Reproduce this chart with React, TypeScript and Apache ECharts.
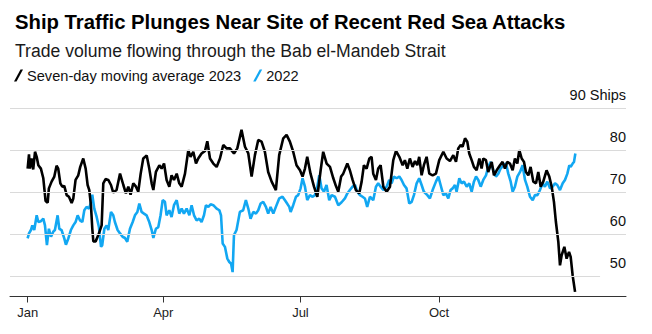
import React, { useEffect, useRef } from "react";
import * as echarts from "echarts";

const titleText = "Ship Traffic Plunges Near Site of Recent Red Sea Attacks";
const subtitleText = "Trade volume flowing through the Bab el-Mandeb Strait";
const seriesNames = ["Seven-day moving average 2023", "2022"];
const monthTickDays = [0, 90, 181, 273];
const monthTickLabels = ["Jan", "Apr", "Jul", "Oct"];
const gridValues = [90, 80, 70, 60, 50];
const gridLabels = ["90 Ships", "80", "70", "60", "50"];

// [day of year, ships]
const ships2023: [number, number][] = [
  [0,75.6],[0.9,79.0],[1.5,75.6],[2.6,78.0],[3.7,75.4],[4.9,79.6],[6.0,78.4],[7.1,76.4],[8.8,75.6],[10.4,73.3],[11.9,67.9],[13.3,67.5],[14.1,70.9],[15.9,72.5],[17.7,73.7],[19.2,76.3],[20.3,75.6],[21.7,72.1],[23.0,71.3],[24.3,71.5],[25.9,69.3],[27.4,68.9],[29.2,67.4],[30.3,68.5],[31.8,72.9],[33.6,74.0],[34.9,76.0],[36.9,78.0],[38.5,75.6],[39.8,71.7],[40.9,70.5],[42.0,66.9],[42.9,61.3],[43.6,58.3],[45.1,58.3],[46.9,59.8],[49.1,62.1],[50.2,72.1],[51.7,73.1],[53.5,72.9],[55.3,71.7],[56.8,69.9],[59.0,70.5],[61.3,74.4],[63.5,71.7],[65.2,69.7],[66.8,71.3],[68.3,69.4],[70.1,72.1],[71.9,71.3],[73.4,70.1],[75.0,74.4],[76.7,78.0],[79.0,78.7],[80.7,75.6],[82.3,72.1],[83.4,70.5],[85.1,74.8],[87.4,76.4],[88.9,75.6],[90.5,76.8],[92.2,72.9],[94.0,71.3],[95.5,74.0],[97.1,72.9],[98.9,74.4],[100.6,72.1],[102.2,71.3],[104.4,74.4],[106.6,80.0],[108.1,78.4],[109.9,79.6],[111.7,76.8],[113.2,78.0],[115.4,79.2],[117.7,79.8],[119.2,82.1],[121.0,78.0],[123.2,76.8],[125.4,76.0],[127.6,78.0],[129.8,81.2],[132.0,80.4],[134.2,80.4],[136.9,79.2],[139.1,80.4],[141.9,84.8],[144.2,80.8],[146.4,79.2],[148.6,73.7],[150.8,78.8],[153.0,82.4],[155.2,82.0],[157.4,79.6],[159.6,74.8],[161.9,72.5],[164.7,70.5],[166.9,78.8],[169.6,82.8],[171.8,83.6],[174.0,82.0],[176.2,79.6],[178.4,76.4],[180.7,75.2],[182.4,73.7],[184.0,75.6],[185.5,78.4],[187.7,74.4],[190.0,71.3],[192.2,68.9],[194.4,75.2],[196.1,79.6],[198.4,76.8],[200.6,76.0],[202.8,73.3],[204.5,71.5],[206.1,70.1],[208.0,73.7],[209.4,74.4],[212.1,76.8],[213.8,75.2],[215.6,72.9],[217.8,70.5],[220.0,69.7],[221.6,72.5],[223.1,76.4],[224.9,75.6],[226.7,78.0],[228.2,78.4],[229.3,74.4],[231.1,72.9],[232.6,75.6],[234.2,76.4],[236.0,71.3],[238.2,70.1],[240.4,71.3],[242.6,77.6],[244.4,79.8],[246.6,78.4],[248.8,76.4],[250.3,77.6],[251.9,75.6],[253.6,78.0],[255.4,76.0],[257.0,77.4],[258.5,76.4],[259.8,78.4],[261.4,74.0],[262.9,76.4],[264.7,78.4],[266.5,74.4],[268.7,74.0],[270.9,74.4],[273.1,77.6],[275.8,79.6],[278.0,78.0],[280.2,77.4],[282.4,78.8],[284.2,77.2],[285.7,80.4],[287.3,81.2],[288.6,80.8],[290.2,82.8],[291.7,82.0],[293.0,79.2],[294.6,77.6],[296.1,76.0],[297.9,75.2],[299.7,78.0],[301.2,75.6],[302.3,78.0],[304.1,77.6],[305.6,74.8],[307.9,77.2],[309.4,74.0],[311.2,75.2],[313.4,76.4],[315.1,77.2],[316.7,75.6],[318.2,77.2],[320.0,76.8],[321.8,75.2],[323.3,78.0],[324.9,76.8],[326.2,80.0],[327.8,78.0],[329.3,77.2],[330.6,74.8],[332.2,74.0],[333.7,76.0],[335.5,72.5],[337.3,72.1],[338.8,74.8],[340.4,71.3],[342.1,72.5],[344.3,75.2],[346.1,73.7],[347.7,71.3],[349.2,67.7],[350.5,62.9],[352.1,58.2],[353.2,52.6],[354.3,55.0],[356.1,57.0],[357.6,54.2],[359.2,55.8],[360.3,54.6],[361.6,50.2],[363.2,46.3]
];

const ships2022: [number, number][] = [
  [0,59.0],[0.9,60.2],[2.2,61.0],[3.1,62.1],[4.4,61.0],[6.0,64.5],[7.1,62.9],[8.8,63.1],[10.4,63.7],[11.5,62.1],[12.8,57.4],[14.1,61.3],[15.5,59.4],[17.0,60.6],[18.1,61.0],[19.9,64.5],[21.0,61.3],[22.5,61.0],[24.3,59.0],[25.4,57.5],[27.0,59.0],[28.7,61.0],[30.3,62.1],[31.8,62.9],[33.2,64.5],[34.7,63.3],[36.3,62.9],[37.6,65.7],[39.1,66.5],[40.7,66.1],[42.0,67.5],[42.9,69.4],[44.2,66.1],[45.8,64.1],[47.3,61.7],[48.7,57.0],[49.5,57.4],[50.9,61.3],[52.4,62.1],[53.5,61.0],[55.3,65.3],[56.8,64.5],[57.9,62.9],[59.7,61.0],[61.3,60.2],[63.0,59.4],[64.6,59.1],[66.1,58.2],[67.9,61.3],[69.7,62.9],[71.2,64.5],[72.8,65.3],[74.1,67.3],[75.6,65.3],[77.2,64.9],[78.9,64.5],[80.7,62.9],[82.3,61.0],[83.4,59.1],[85.1,61.3],[86.7,61.7],[88.2,64.5],[89.6,68.1],[91.1,67.7],[92.2,64.5],[94.0,65.7],[95.5,64.1],[97.1,66.9],[98.9,68.1],[100.6,64.9],[102.2,66.1],[103.7,64.9],[105.5,66.1],[107.3,64.5],[108.8,66.9],[110.4,64.5],[112.1,63.3],[113.9,63.7],[115.4,62.9],[117.0,64.5],[118.3,66.9],[119.9,66.5],[121.4,67.1],[123.2,66.9],[125.4,66.1],[127.2,65.7],[128.3,64.5],[129.4,57.8],[130.9,57.0],[132.5,54.2],[133.8,53.4],[135.0,53.0],[136.0,51.0],[136.9,59.8],[138.6,61.0],[140.8,65.3],[143.0,65.7],[144.8,68.1],[146.4,66.1],[147.9,63.7],[149.7,65.3],[151.5,64.9],[153.0,65.7],[154.6,67.3],[156.3,67.7],[158.1,66.5],[159.6,64.9],[161.2,66.5],[163.0,64.9],[164.7,66.5],[166.9,68.5],[169.1,68.9],[171.4,67.7],[173.6,66.5],[174.5,65.3],[176.2,66.9],[178.0,68.9],[179.5,69.3],[181.1,70.9],[182.4,73.3],[184.0,71.3],[185.5,68.1],[187.3,69.3],[189.1,68.9],[190.6,69.3],[192.2,71.3],[193.5,74.0],[195.0,70.9],[196.6,70.1],[198.3,71.7],[200.1,68.1],[201.7,69.3],[203.9,68.9],[206.1,66.9],[208.3,67.6],[210.5,68.5],[212.1,69.7],[213.8,70.5],[215.6,71.3],[217.2,71.7],[218.7,70.1],[220.5,69.3],[222.2,68.9],[223.8,68.5],[225.3,66.5],[227.1,68.9],[229.3,68.1],[231.1,71.3],[232.6,72.1],[234.2,71.3],[236.0,70.5],[238.2,71.3],[239.9,72.9],[241.5,72.1],[243.0,73.7],[244.8,73.3],[246.6,73.7],[248.1,72.9],[249.7,71.7],[251.4,70.9],[253.2,67.3],[254.8,67.7],[256.3,69.3],[258.1,72.1],[259.8,73.3],[261.4,71.7],[262.9,70.1],[265.2,69.3],[266.9,68.5],[268.7,70.5],[270.9,72.5],[272.5,73.7],[274.0,71.7],[275.8,69.3],[277.5,69.7],[279.1,68.5],[280.6,70.5],[282.0,70.9],[283.5,71.7],[284.6,70.1],[286.4,73.3],[287.9,72.1],[289.5,72.5],[291.3,71.3],[293.0,72.1],[294.6,70.1],[296.1,72.5],[297.5,73.7],[299.0,72.9],[300.6,71.3],[302.3,72.9],[304.1,74.0],[305.6,76.0],[307.2,77.2],[309.0,75.2],[310.7,73.7],[312.3,74.4],[313.8,75.6],[315.6,76.4],[317.4,76.8],[318.9,74.4],[320.5,72.5],[321.8,70.1],[323.3,71.3],[324.9,73.7],[326.7,74.8],[328.4,76.4],[330.0,72.9],[331.5,71.3],[333.3,68.9],[335.1,68.1],[336.6,69.3],[338.2,69.3],[339.9,70.5],[341.7,72.1],[343.2,71.3],[344.8,72.5],[346.6,70.9],[348.3,71.3],[349.9,72.1],[351.4,71.7],[353.2,70.5],[355.0,72.1],[356.5,72.9],[358.1,74.4],[359.4,76.4],[360.3,76.0],[361.6,76.8],[362.5,77.2],[363.4,79.2]
];

const X_MIN = -11.7;
const X_MAX = 397;
const Y_MIN = 45.2;
const Y_MAX = 90;

const BLACK = "#000000";
const BLUE = "#12a7f2";
const FONT = "Liberation Sans, Arial, sans-serif";

export default function App() {
  const ref = useRef<HTMLDivElement>(null);

  useEffect(() => {
    if (!ref.current) return;
    const chart = echarts.init(ref.current, undefined, { renderer: "svg" });

    const gridMarks: any[] = gridValues.map((v, i) => {
      if (v === 50) {
        return {
          yAxis: v,
          lineStyle: { color: "rgba(255,255,255,0)" },
          label: { formatter: gridLabels[i] },
        };
      }
      return { yAxis: v, label: { formatter: gridLabels[i] } };
    });
    const shortFifty: any = [
      { coord: [X_MIN, 50], label: { show: false } },
      { coord: [379.8, 50], label: { show: false } },
    ];

    chart.setOption({
      animation: false,
      backgroundColor: "#ffffff",
      textStyle: { fontFamily: FONT },
      title: [
        {
          text: titleText,
          left: 10,
          top: 7,
          textStyle: { fontFamily: FONT, fontWeight: "bold", fontSize: 20.3, color: "#000" },
        },
        {
          text: subtitleText,
          left: 10,
          top: 37,
          textStyle: { fontFamily: FONT, fontWeight: "normal", fontSize: 17.6, color: "#1a1a1a" },
        },
      ],
      legend: {
        left: 9,
        top: 63,
        itemWidth: 9,
        itemHeight: 12,
        itemGap: 12,
        selectedMode: false,
        textStyle: { fontFamily: FONT, fontSize: 14.6, color: "#111", padding: [0, 0, 0, -1] },
        data: [
          { name: seriesNames[0], icon: "path://M0,12 L2.5,12 L9,0 L6.5,0 Z", itemStyle: { color: BLACK } },
          { name: seriesNames[1], icon: "path://M0,12 L2.5,12 L9,0 L6.5,0 Z", itemStyle: { color: BLUE } },
        ],
      },
      grid: { left: 10, right: 26, top: 108, bottom: 37.5, containLabel: false },
      xAxis: {
        type: "value",
        min: X_MIN,
        max: X_MAX,
        splitLine: { show: false },
        axisLine: { show: true, onZero: false, lineStyle: { color: "#333", width: 1 } },
        axisTick: { show: true, customValues: monthTickDays, length: 6, lineStyle: { color: "#333" } },
        axisLabel: {
          show: true,
          customValues: monthTickDays,
          margin: 9,
          fontSize: 13,
          color: "#222",
          fontFamily: FONT,
          formatter: (val: number) => {
            const idx = monthTickDays.indexOf(Math.round(val));
            return idx >= 0 ? monthTickLabels[idx] : "";
          },
        },
      },
      yAxis: {
        type: "value",
        min: Y_MIN,
        max: Y_MAX,
        show: false,
        splitLine: { show: false },
      },
      series: [
        {
          name: seriesNames[1],
          type: "line",
          data: ships2022,
          showSymbol: false,
          symbol: "none",
          lineStyle: { color: BLUE, width: 2.6 },
          itemStyle: { color: BLUE },
          z: 2,
          markLine: {
            silent: true,
            symbol: "none",
            lineStyle: { color: "#dadada", type: "solid", width: 1 },
            label: {
              show: true,
              position: "insideEndTop",
              distance: [0, 6],
              fontSize: 14.5,
              color: "#111",
              fontFamily: FONT,
            },
            data: [...gridMarks, shortFifty],
          },
        },
        {
          name: seriesNames[0],
          type: "line",
          data: ships2023,
          showSymbol: false,
          symbol: "none",
          lineStyle: { color: BLACK, width: 2.6 },
          itemStyle: { color: BLACK },
          z: 3,
        },
      ],
    });

    return () => chart.dispose();
  }, []);

  return (
    <div
      ref={ref}
      style={{ position: "fixed", left: 0, top: 0, width: 652, height: 334, background: "#fff" }}
    />
  );
}
